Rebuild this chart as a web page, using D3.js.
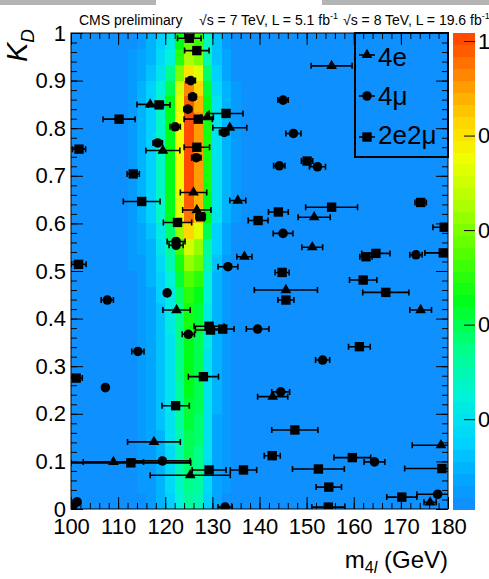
<!DOCTYPE html>
<html><head><meta charset="utf-8">
<script src="https://cdn.jsdelivr.net/npm/d3@7"></script>
<style>
body{margin:0;background:#fff;overflow:hidden}
svg{display:block}
text{font-family:"Liberation Sans",Arial,Helvetica,sans-serif;fill:#000}
</style></head><body>
<svg id="c" width="489" height="579"></svg>
<script>
// ---------------- data ----------------
const xTickValues = [100,110,120,130,140,150,160,170,180];
const xTickLabels = ["100","110","120","130","140","150","160","170","180"];
const yTickValues = [0,0.1,0.2,0.3,0.4,0.5,0.6,0.7,0.8,0.9,1];
const yTickLabels = ["0","0.1","0.2","0.3","0.4","0.5","0.6","0.7","0.8","0.9","1"];
const zTickValues = [0.2,0.4,0.6,0.8,1];
const zTickLabels = ["0.2","0.4","0.6","0.8","1"];

// heat map: columns of 2 GeV (lower edges), 30 KD rows listed from KD=1 (top) down to KD=0
const heatMassLow = [110,112,114,116,118,120,122,124,126,128,130,132,134];
const heatValues = [
 [0.02,0.03,0.06,0.09,0.15,0.22,0.44,0.58,0.52,0.27,0.12,0.06,0.02],
 [0.02,0.04,0.07,0.11,0.17,0.26,0.50,0.66,0.59,0.31,0.13,0.07,0.03],
 [0.02,0.05,0.08,0.13,0.21,0.34,0.61,0.80,0.72,0.38,0.16,0.08,0.03],
 [0.03,0.06,0.09,0.15,0.25,0.41,0.70,0.92,0.83,0.43,0.18,0.09,0.04],
 [0.03,0.06,0.10,0.16,0.27,0.45,0.74,0.97,0.87,0.46,0.19,0.10,0.04],
 [0.03,0.06,0.10,0.16,0.28,0.46,0.76,1.00,0.90,0.47,0.20,0.10,0.04],
 [0.03,0.06,0.10,0.16,0.28,0.46,0.76,1.00,0.90,0.47,0.20,0.10,0.04],
 [0.03,0.06,0.10,0.16,0.28,0.46,0.76,1.00,0.90,0.47,0.20,0.10,0.04],
 [0.03,0.06,0.10,0.16,0.28,0.46,0.76,1.00,0.90,0.47,0.20,0.10,0.04],
 [0.03,0.06,0.10,0.16,0.28,0.46,0.76,1.00,0.90,0.47,0.20,0.10,0.04],
 [0.03,0.06,0.10,0.16,0.27,0.45,0.74,0.98,0.88,0.46,0.20,0.10,0.04],
 [0.03,0.06,0.10,0.15,0.27,0.44,0.72,0.95,0.86,0.45,0.19,0.10,0.04],
 [0.02,0.05,0.08,0.13,0.23,0.38,0.62,0.82,0.74,0.39,0.16,0.08,0.03],
 [0.02,0.04,0.07,0.11,0.20,0.32,0.53,0.70,0.63,0.33,0.14,0.07,0.03],
 [0.02,0.04,0.06,0.10,0.18,0.29,0.48,0.63,0.57,0.30,0.13,0.06,0.03],
 [0.02,0.03,0.06,0.09,0.15,0.25,0.42,0.55,0.50,0.26,0.11,0.06,0.02],
 [0.02,0.03,0.05,0.08,0.14,0.23,0.38,0.50,0.45,0.24,0.10,0.05,0.02],
 [0.01,0.03,0.05,0.08,0.13,0.22,0.36,0.48,0.43,0.23,0.10,0.05,0.02],
 [0.01,0.03,0.05,0.08,0.13,0.22,0.36,0.47,0.42,0.22,0.09,0.05,0.02],
 [0.01,0.03,0.05,0.07,0.13,0.21,0.35,0.46,0.41,0.22,0.09,0.05,0.02],
 [0.01,0.03,0.05,0.07,0.13,0.21,0.34,0.45,0.41,0.21,0.09,0.05,0.02],
 [0.01,0.03,0.05,0.07,0.13,0.21,0.34,0.45,0.41,0.21,0.09,0.05,0.02],
 [0.01,0.03,0.04,0.07,0.12,0.20,0.33,0.44,0.40,0.21,0.09,0.04,0.02],
 [0.01,0.03,0.04,0.07,0.12,0.20,0.33,0.43,0.39,0.20,0.09,0.04,0.02],
 [0.01,0.03,0.04,0.07,0.12,0.19,0.32,0.42,0.38,0.20,0.08,0.04,0.02],
 [0.01,0.02,0.04,0.07,0.11,0.19,0.31,0.41,0.37,0.19,0.08,0.04,0.02],
 [0.01,0.02,0.04,0.06,0.11,0.18,0.30,0.40,0.36,0.19,0.08,0.04,0.02],
 [0.01,0.02,0.04,0.06,0.11,0.17,0.29,0.38,0.34,0.18,0.08,0.04,0.02],
 [0.01,0.02,0.04,0.06,0.10,0.17,0.27,0.36,0.32,0.17,0.07,0.04,0.01],
 [0.01,0.02,0.03,0.05,0.09,0.15,0.25,0.33,0.30,0.16,0.07,0.03,0.01]
];

// events: 4e (triangles)
const e4Mass = [155.3,116.8,128.9,133.7,119.5,126.0,135.4,126.7,151.6,151.2,136.8,145.6,174.2,122.4,142.8,117.6,178.5,109.0,125.3,176.2];
const e4KD   = [0.931,0.850,0.823,0.801,0.753,0.665,0.648,0.628,0.613,0.550,0.530,0.460,0.418,0.418,0.236,0.141,0.134,0.099,0.071,0.014];
const e4Err  = [4.35,2.8,1.3,3.6,3.6,2.8,1.7,3.0,3.4,2.2,1.6,6.7,2.3,2.9,3.2,5.6,6.1,6.4,8.5,1.3];
// 4mu (circles)
const mu4Mass = [125.4,125.8,124.8,145.0,122.1,132.5,147.2,118.4,126.6,144.2,152.3,145.0,122.3,122.3,133.3,173.2,120.4,107.7,139.6,124.9,114.2,153.4,107.3,144.5,119.4,164.4,177.8,132.7,100.5,101.3];
const mu4KD   = [0.900,0.866,0.840,0.859,0.803,0.791,0.789,0.769,0.738,0.721,0.719,0.579,0.562,0.554,0.509,0.534,0.454,0.439,0.378,0.367,0.331,0.313,0.255,0.246,0.101,0.099,0.031,0.004,0.008,0.015];
const mu4Err  = [1.0,0.8,0.8,1.1,1.1,1.0,1.6,1.0,1.0,1.2,1.7,2.1,1.9,1.5,2.1,1.3,0.5,1.3,2.4,1.3,1.3,1.5,0.5,1.9,5.9,2.2,4.4,1.5,0.3,0.3];
// 2e2mu (squares)
const e2mu2Mass = [125.1,126.7,118.7,132.9,127.0,110.2,101.7,126.7,150.1,113.2,115.0,144.0,127.5,122.6,139.7,155.3,174.2,179.2,162.6,164.7,179.0,144.8,162.0,166.8,145.6,129.3,129.6,132.2,161.2,128.1,101.1,101.6,122.2,147.5,142.7,112.7,129.3,136.6,152.5,159.7,178.7,154.7,170.2,154.6];
const e2mu2KD   = [0.989,0.963,0.849,0.831,0.819,0.819,0.756,0.760,0.731,0.704,0.646,0.624,0.614,0.602,0.606,0.634,0.644,0.592,0.530,0.537,0.538,0.497,0.481,0.455,0.439,0.384,0.376,0.378,0.341,0.278,0.275,0.514,0.217,0.166,0.112,0.097,0.082,0.082,0.084,0.108,0.085,0.046,0.025,0.004];
const e2mu2Err  = [2.5,2.6,2.3,3.6,3.0,3.4,1.4,2.7,1.2,1.3,3.9,2.1,1.0,3.0,2.1,5.5,1.2,2.4,1.3,3.0,3.9,1.5,2.9,4.9,1.7,3.2,3.2,2.4,2.3,3.2,1.3,1.6,2.9,4.9,1.7,12.7,3.6,2.8,5.5,3.9,7.9,2.7,3.2,3.5];

const legendLabels = ["4e","4μ","2e2μ"];

// palette (value -> colour)
const palV = [0.0,0.08,0.15,0.25,0.35,0.45,0.55,0.65,0.75,0.82,0.88,0.94,1.0];
const palC = ["#1487ff","#00a8ff","#00d2ff","#00f2da","#00ff8a","#00ff18","#50ff00","#aaff00","#f0ff00","#ffdc00","#ffb000","#ff7d00","#ff4a00"];

// ---------------- drawing ----------------
const svg = d3.select("#c");
const L = 71, R = 448, T = 33, B = 509;
const x = d3.scaleLinear().domain([100,180]).range([L,R]);
const y = d3.scaleLinear().domain([0,1]).range([B,T]);
const zMin = 0.01, zMax = 1.017, NLEV = 40;
const z = d3.scaleLinear().domain([zMin,zMax]).range([B,T]);
const pal = d3.scaleLinear().domain(palV).range(palC).clamp(true);
function levelColor(v){
  let l = Math.floor((v - zMin)/(zMax - zMin)*NLEV);
  l = Math.max(0, Math.min(NLEV-1, l));
  return pal(zMin + (l+0.5)*(zMax-zMin)/NLEV);
}

// screenshot grey strips at top
svg.append("rect").attr("x",0).attr("y",0).attr("width",156).attr("height",5).attr("fill","#b4b4b4");
svg.append("rect").attr("x",322).attr("y",0).attr("width",167).attr("height",5).attr("fill","#b4b4b4");

svg.append("defs").append("clipPath").attr("id","plotclip")
  .append("rect").attr("x",L).attr("y",T).attr("width",R-L).attr("height",B-T);

// background (lowest level)
svg.append("rect").attr("x",L).attr("y",T).attr("width",R-L).attr("height",B-T).attr("fill",levelColor(0));

// heat cells
const nRows = heatValues.length;
const cells = [];
heatValues.forEach((row,ri)=>{
  const kdHi = 1 - ri/nRows, kdLo = 1 - (ri+1)/nRows;
  row.forEach((v,ci)=>cells.push({m0:heatMassLow[ci], m1:heatMassLow[ci]+2, k0:kdLo, k1:kdHi, v}));
});
svg.append("g").attr("shape-rendering","crispEdges").selectAll("rect").data(cells).join("rect")
  .attr("x",d=>x(d.m0)).attr("width",d=>x(d.m1)-x(d.m0)+0.4)
  .attr("y",d=>y(d.k1)).attr("height",d=>y(d.k0)-y(d.k1)+0.4)
  .attr("fill",d=>levelColor(d.v));

// axes ticks (inside) on all four sides
const xMinor = d3.range(100,181,2);
const yMinor = d3.range(0,1.0001,0.02);
function tickAxis(axisFn, scale, vals, size, tx, ty){
  const g = svg.append("g").attr("transform",`translate(${tx},${ty})`)
    .call(axisFn(scale).tickValues(vals).tickSizeInner(-size).tickSizeOuter(0).tickFormat(""));
  g.select(".domain").remove();
  g.selectAll("line").attr("stroke","#000").attr("stroke-width",1);
  return g;
}
tickAxis(d3.axisBottom,x,xMinor,6,0,B);
tickAxis(d3.axisBottom,x,xTickValues,12,0,B);
tickAxis(d3.axisTop,x,xMinor,6,0,T);
tickAxis(d3.axisTop,x,xTickValues,12,0,T);
tickAxis(d3.axisLeft,y,yMinor,6,L,0);
tickAxis(d3.axisLeft,y,yTickValues,12,L,0);
tickAxis(d3.axisRight,y,yMinor,6,R,0);
tickAxis(d3.axisRight,y,yTickValues,12,R,0);

// labels
const gx = svg.append("g").attr("transform",`translate(0,${B})`)
  .call(d3.axisBottom(x).tickValues(xTickValues).tickSize(0).tickPadding(9).tickFormat((d,i)=>xTickLabels[i]));
gx.select(".domain").remove();
gx.selectAll("text").attr("font-size",22).attr("font-family","Liberation Sans, Arial, sans-serif");
const gy = svg.append("g").attr("transform",`translate(${L},0)`)
  .call(d3.axisLeft(y).tickValues(yTickValues).tickSize(0).tickPadding(5).tickFormat((d,i)=>yTickLabels[i]));
gy.select(".domain").remove();
gy.selectAll("text").attr("font-size",22).attr("font-family","Liberation Sans, Arial, sans-serif");

// frame
svg.append("rect").attr("x",L).attr("y",T).attr("width",R-L).attr("height",B-T)
  .attr("fill","none").attr("stroke","#000").attr("stroke-width",1);

// events
const events = [];
e4Mass.forEach((m,i)=>events.push({m,k:e4KD[i],e:e4Err[i],t:"tri"}));
mu4Mass.forEach((m,i)=>events.push({m,k:mu4KD[i],e:mu4Err[i],t:"cir"}));
e2mu2Mass.forEach((m,i)=>events.push({m,k:e2mu2KD[i],e:e2mu2Err[i],t:"sq"}));

const ge = svg.append("g").attr("clip-path","url(#plotclip)");
const cap = 3;
ge.selectAll("path.err").data(events).join("path").attr("class","err")
  .attr("d",d=>{
    const x0=x(d.m-d.e), x1=x(d.m+d.e), yy=y(d.k);
    return `M${x0},${yy}H${x1}M${x0},${yy-cap}V${yy+cap}M${x1},${yy-cap}V${yy+cap}`;
  })
  .attr("stroke","#000").attr("stroke-width",1.6).attr("fill","none");

const sym = {tri:d3.symbol(d3.symbolTriangle, 50), cir:d3.symbol(d3.symbolCircle, 72), sq:d3.symbol(d3.symbolSquare, 88)};
ge.selectAll("path.mk").data(events).join("path").attr("class","mk")
  .attr("transform",d=>`translate(${x(d.m)},${y(d.k)})`)
  .attr("d",d=>sym[d.t]()).attr("fill","#000");

// legend
const lg = svg.append("g");
lg.append("rect").attr("x",355).attr("y",33).attr("width",93).attr("height",124)
  .attr("fill","none").attr("stroke","#000").attr("stroke-width",2);
const legY = [55,96,137], legBase = [66,105,144], legSym = ["tri","cir","sq"];
legendLabels.forEach((lab,i)=>{
  lg.append("line").attr("x1",359).attr("x2",375).attr("y1",legY[i]).attr("y2",legY[i]).attr("stroke","#000").attr("stroke-width",1.6);
  lg.append("path").attr("transform",`translate(367,${legY[i]})`).attr("d",sym[legSym[i]]()).attr("fill","#000");
  lg.append("text").attr("x",378).attr("y",legBase[i]).attr("font-size",26).text(lab);
});

// colour bar
const cbX = 453, cbW = 22;
const levels = d3.range(NLEV);
svg.append("g").attr("shape-rendering","crispEdges").selectAll("rect").data(levels).join("rect")
  .attr("x",cbX).attr("width",cbW)
  .attr("y",l=>z(zMin+(l+1)*(zMax-zMin)/NLEV))
  .attr("height",l=>z(zMin+l*(zMax-zMin)/NLEV)-z(zMin+(l+1)*(zMax-zMin)/NLEV)+0.5)
  .attr("fill",l=>pal(zMin+(l+0.5)*(zMax-zMin)/NLEV));
const gz = svg.append("g").attr("transform",`translate(${cbX+cbW},0)`)
  .call(d3.axisRight(z).tickValues(zTickValues).tickSizeInner(-11).tickSizeOuter(0).tickPadding(3).tickFormat((d,i)=>zTickLabels[i]));
gz.select(".domain").remove();
gz.selectAll("line").attr("stroke","#000").attr("stroke-width",1);
gz.selectAll("text").attr("font-size",22).attr("font-family","Liberation Sans, Arial, sans-serif");

// axis titles
const xt = svg.append("text").attr("x",R).attr("y",568).attr("text-anchor","end").attr("font-size",24);
xt.append("tspan").text("m");
xt.append("tspan").attr("font-size",16).attr("dy",5).text("4");
xt.append("tspan").attr("font-size",16).attr("font-style","italic").text("l");
xt.append("tspan").attr("dy",-5).text(" (GeV)");

const yt = svg.append("text").attr("transform","translate(27,29) rotate(-90)").attr("text-anchor","end").attr("font-size",29);
yt.append("tspan").attr("font-style","italic").text("K");
yt.append("tspan").attr("font-style","italic").attr("font-size",19).attr("dy",7).text("D");

// header
svg.append("text").attr("x",79).attr("y",24.5).attr("font-size",14).text("CMS preliminary");
function lumi(x0, s1){
  const t = svg.append("text").attr("x",x0).attr("y",24.5).attr("font-size",14);
  t.append("tspan").text(s1);
  t.append("tspan").attr("font-size",9).attr("dy",-6).text("-1");
  return t;
}
lumi(199,"√s = 7 TeV, L = 5.1 fb");
lumi(343,"√s = 8 TeV, L = 19.6 fb");
</script>
</body></html>
